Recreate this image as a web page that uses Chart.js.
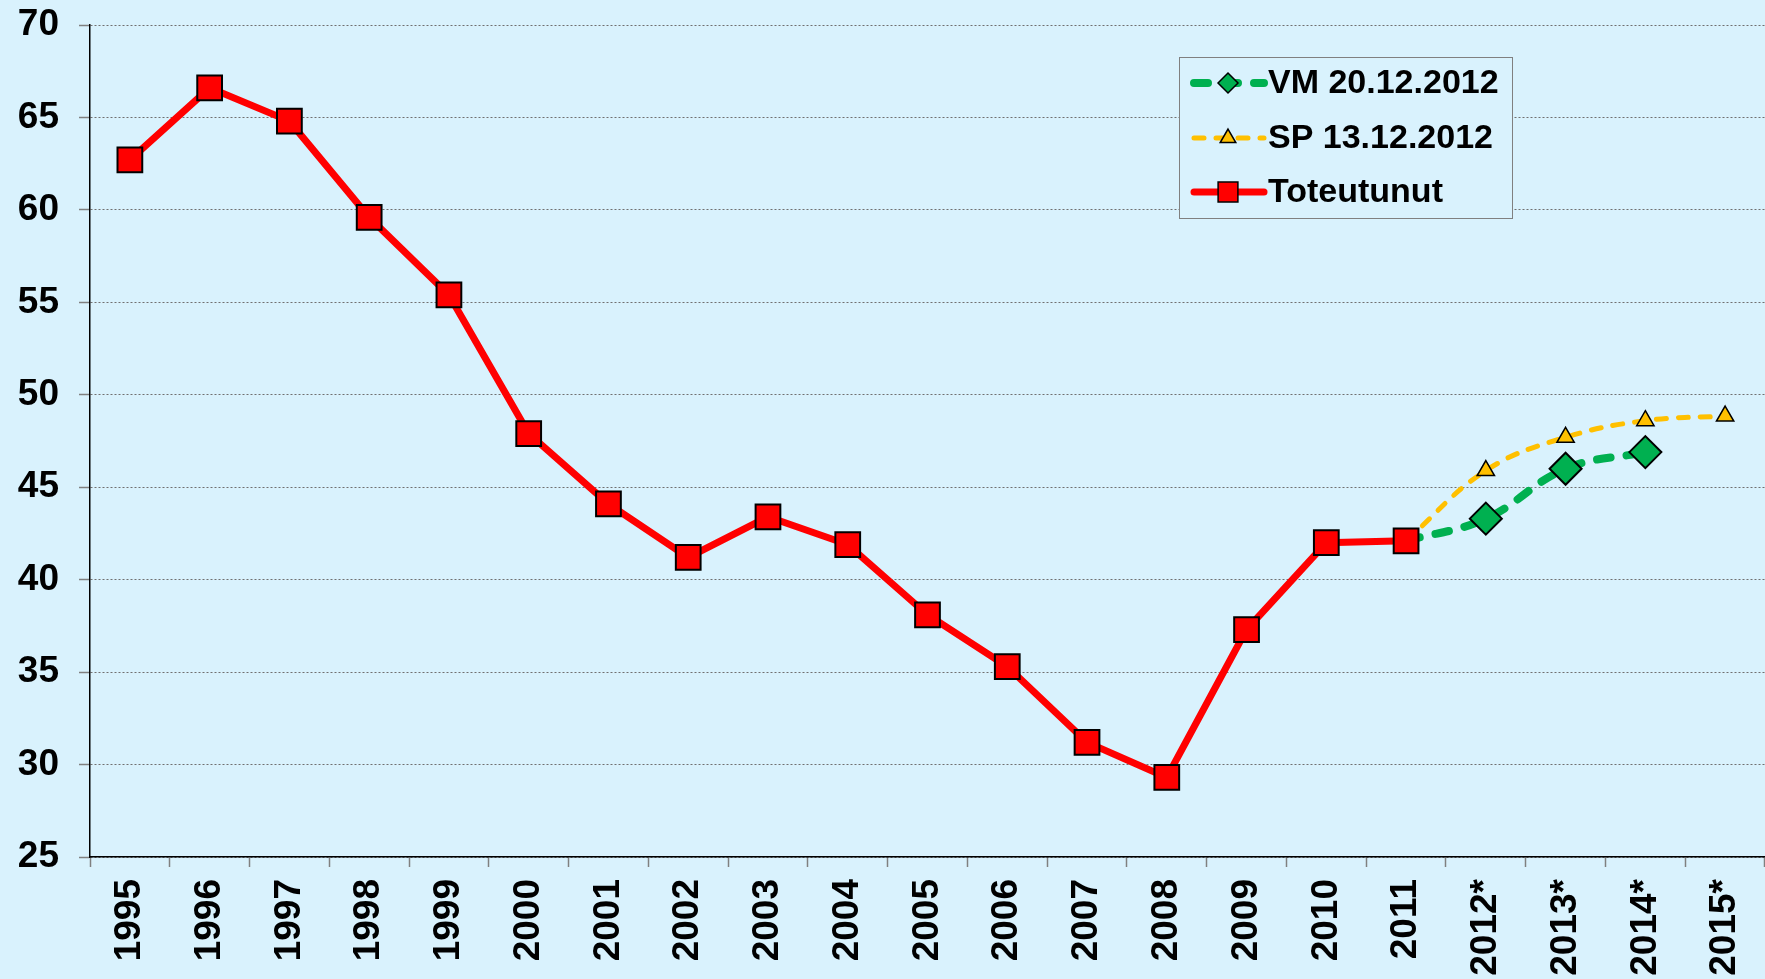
<!DOCTYPE html>
<html>
<head>
<meta charset="utf-8">
<script src="https://cdn.jsdelivr.net/npm/chart.js@4/dist/chart.umd.min.js"></script>
<style>
    html, body { margin: 0; padding: 0; background: #d9f2fd; }
    #wrap { width: 1765px; height: 979px; position: relative; overflow: hidden; }
</style>
</head>
<body>
<div id="wrap"><canvas id="chart"></canvas></div>
<script>
const years = ['1995', '1996', '1997', '1998', '1999', '2000', '2001', '2002', '2003', '2004',
    '2005', '2006', '2007', '2008', '2009', '2010', '2011', '2012*', '2013*', '2014*', '2015*'];

const toteutunut = [62.7, 66.6, 64.8, 59.6, 55.4, 47.9, 44.1, 41.2, 43.4, 41.9,
    38.1, 35.3, 31.2, 29.3, 37.3, 42.0, 42.1, null, null, null, null];

const vm = [null, null, null, null, null, null, null, null, null, null,
    null, null, null, null, null, null, 42.1, 43.3, 46.0, 46.9, null];

const sp = [null, null, null, null, null, null, null, null, null, null,
    null, null, null, null, null, null, 42.1, 45.9, 47.7, 48.6, 48.85];

const yTicks = [25, 30, 35, 40, 45, 50, 55, 60, 65, 70];

const BG = '#d9f2fd';
const FONT = 'Arial, "Liberation Sans", sans-serif';

// legend drawn inside the plot, like the original
const legendBox = {
    id: 'legendBox',
    afterDraw(chart) {
        const ctx = chart.ctx;
        const area = chart.chartArea;
        const x = area.right - 586, y = area.top + 32, w = 333, h = 161;
        ctx.save();
        ctx.fillStyle = BG;
        ctx.fillRect(x, y, w, h);
        ctx.strokeStyle = '#808080';
        ctx.lineWidth = 1;
        ctx.strokeRect(x + 0.5, y + 0.5, w, h);

        const rows = [
            { ds: chart.data.datasets[0], dash: [14, 16], r: 10, dy: 26 },
            { ds: chart.data.datasets[1], dash: [10, 12], r: 9, dy: 81 },
            { ds: chart.data.datasets[2], dash: [], r: 14, dy: 135 }
        ];
        rows.forEach(row => {
            const ly = y + row.dy;
            ctx.save();
            ctx.strokeStyle = row.ds.borderColor;
            ctx.lineWidth = row.ds.borderWidth;
            ctx.lineCap = 'round';
            ctx.setLineDash(row.dash);
            ctx.beginPath();
            ctx.moveTo(x + 15, ly);
            ctx.lineTo(x + 85, ly);
            ctx.stroke();
            ctx.restore();

            ctx.fillStyle = row.ds.pointBackgroundColor;
            ctx.strokeStyle = '#000';
            ctx.lineWidth = 1.5;
            Chart.helpers.drawPoint(ctx, {
                pointStyle: row.ds.pointStyle, radius: row.r, rotation: 0, borderWidth: 1.5
            }, x + 49, ly);

            ctx.fillStyle = '#000';
            ctx.font = 'bold 34px ' + FONT;
            ctx.textBaseline = 'middle';
            ctx.textAlign = 'left';
            ctx.fillText(row.ds.label, x + 89, ly + 1);
        });
        ctx.restore();
    }
};

const ctx = document.getElementById('chart').getContext('2d');

new Chart(ctx, {
    type: 'line',
    data: {
        labels: years,
        datasets: [
            {
                label: 'VM 20.12.2012',
                data: vm,
                borderColor: '#00b050',
                backgroundColor: '#00b050',
                borderWidth: 8,
                borderDash: [14, 16],
                borderCapStyle: 'round',
                tension: 0.4,
                pointStyle: 'rectRot',
                pointRadius: c => c.dataIndex === 16 ? 0 : 16,
                pointBackgroundColor: '#00b050',
                pointBorderColor: '#000',
                pointBorderWidth: 2,
                order: 2
            },
            {
                label: 'SP 13.12.2012',
                data: sp,
                borderColor: '#ffc000',
                backgroundColor: '#ffc000',
                borderWidth: 5,
                borderDash: [10, 12],
                borderCapStyle: 'round',
                tension: 0.4,
                pointStyle: 'triangle',
                pointRadius: c => c.dataIndex === 16 ? 0 : 10,
                pointBackgroundColor: '#ffc000',
                pointBorderColor: '#000',
                pointBorderWidth: 1.5,
                order: 1
            },
            {
                label: 'Toteutunut',
                data: toteutunut,
                borderColor: '#ff0000',
                backgroundColor: '#ff0000',
                borderWidth: 7,
                tension: 0,
                pointStyle: 'rect',
                pointRadius: 17.5,
                pointBackgroundColor: '#ff0000',
                pointBorderColor: '#000',
                pointBorderWidth: 2,
                order: 0
            }
        ]
    },
    options: {
        responsive: true,
        maintainAspectRatio: false,
        animation: false,
        layout: { autoPadding: false, padding: { top: 25, left: 0, right: 0, bottom: 0 } },
        plugins: {
            legend: { display: false },
            tooltip: { enabled: false }
        },
        scales: {
            x: {
                offset: true,
                grid: {
                    offset: true,
                    drawOnChartArea: false,
                    tickLength: 10,
                    tickColor: '#808080',
                    tickWidth: 1.5
                },
                border: { color: '#000', width: 1.5 },
                ticks: {
                    minRotation: 90,
                    maxRotation: 90,
                    padding: 12,
                    color: '#000',
                    font: { family: FONT, size: 37, weight: 'bold' }
                },
                afterFit(scale) {
                    scale.height = 122;
                    scale.paddingLeft = 0;
                    scale.paddingRight = 0;
                }
            },
            y: {
                min: 25,
                max: 70,
                afterBuildTicks(scale) { scale.ticks = yTicks.map(v => ({ value: v })); },
                grid: {
                    color: '#707070',
                    lineWidth: 1,
                    tickLength: 11,
                    tickColor: '#808080',
                    tickWidth: 1.5
                },
                border: { color: '#000', width: 1.5, dash: [2, 2] },
                ticks: {
                    padding: 20,
                    color: '#000',
                    font: { family: FONT, size: 37, weight: 'bold' }
                },
                afterFit(scale) {
                    scale.width = 90;
                    scale.paddingTop = 0;
                    scale.paddingBottom = 0;
                }
            }
        }
    },
    plugins: [legendBox]
});
</script>
</body>
</html>
